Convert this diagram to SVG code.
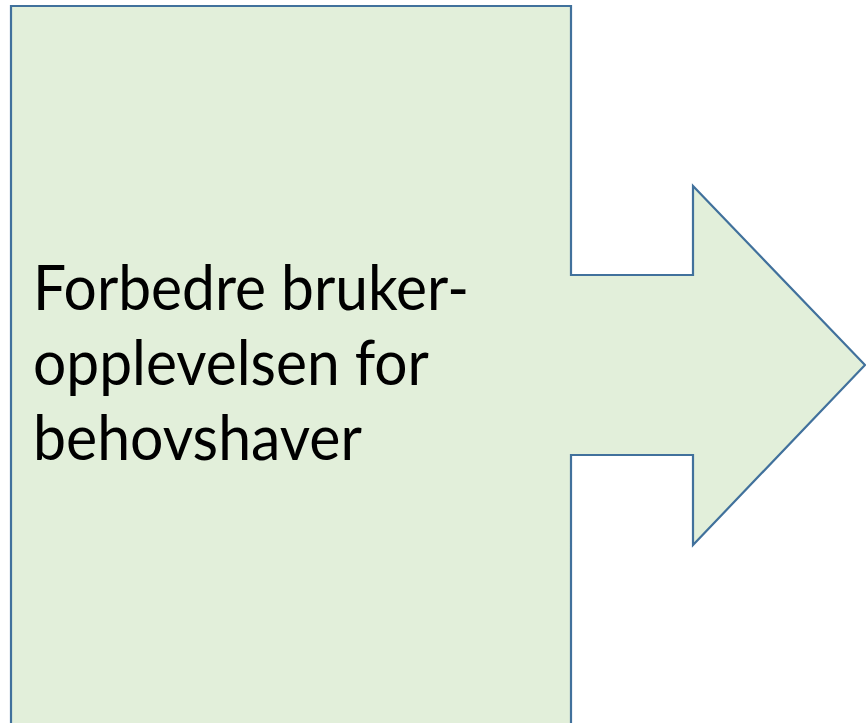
<svg xmlns="http://www.w3.org/2000/svg" width="866" height="723" viewBox="0 0 866 723">
<style>
.shape{fill:#E2EFDA;stroke:#41719C;stroke-width:2.2;stroke-linejoin:miter}
.lbl{font-family:Lato,"Open Sans","Liberation Sans",sans-serif;font-size:61px;fill:#000}
</style>
<rect width="866" height="723" fill="#fff"/>
<g id="arrow-box">
<polygon class="shape" points="11,6 571,6 571,275 693,275 693,186 865,365 693,545 693,455 571,455 571,740 11,740"/>
<text class="lbl" x="33" y="310" textLength="436" lengthAdjust="spacingAndGlyphs">Forbedre bruker-</text>
<text class="lbl" x="33" y="385" textLength="396" lengthAdjust="spacingAndGlyphs">opplevelsen for</text>
<text class="lbl" x="33" y="460" textLength="329" lengthAdjust="spacingAndGlyphs">behovshaver</text>
</g>
<g id="connectors"></g>
</svg>
